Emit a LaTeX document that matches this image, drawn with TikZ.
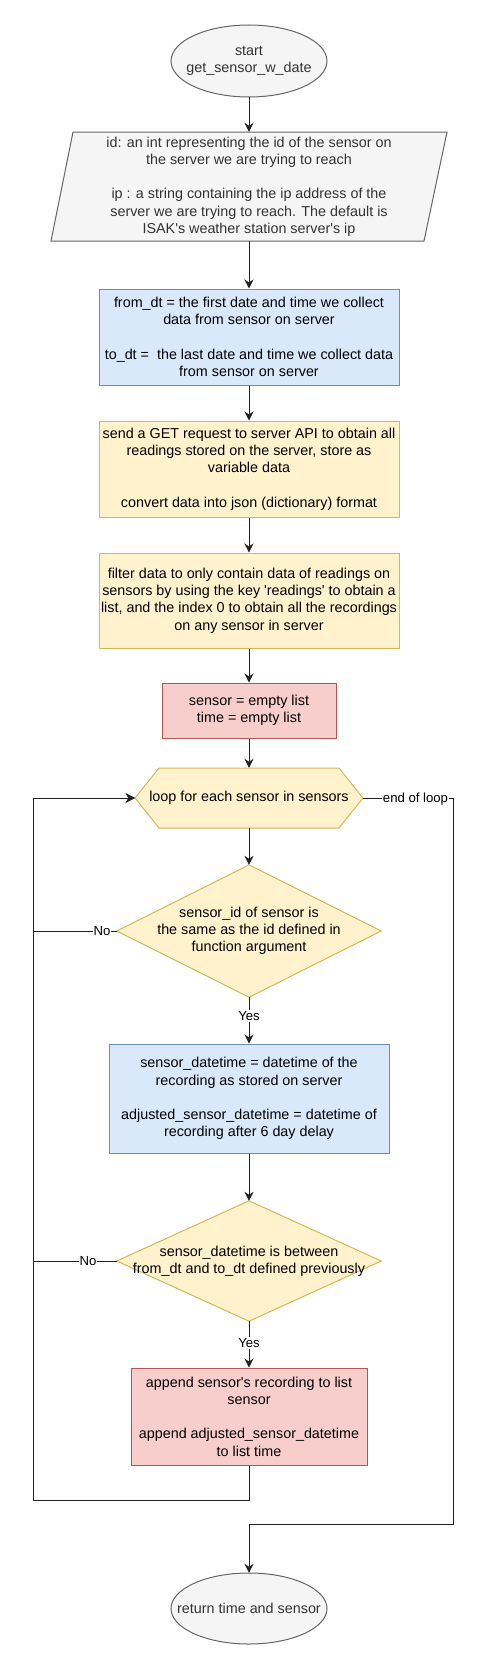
\documentclass[tikz,border=0pt]{standalone}
\usepackage{fontspec}
\setmainfont{Liberation Sans}
\usetikzlibrary{arrows.meta,backgrounds}
\definecolor{gfill}{HTML}{F5F5F5}
\definecolor{gline}{HTML}{666666}
\definecolor{gtext}{HTML}{333333}
\definecolor{bfill}{HTML}{DAE8FC}
\definecolor{bline}{HTML}{6C8EBF}
\definecolor{yfill}{HTML}{FFF2CC}
\definecolor{yline}{HTML}{D6B656}
\definecolor{rfill}{HTML}{F8CECC}
\definecolor{rline}{HTML}{B85450}
\definecolor{cline}{HTML}{222222}
\newcommand{\mainsz}{\fontsize{14.35}{17.2}\selectfont}
\newcommand{\lblsz}{\fontsize{13.15}{15.8}\selectfont}
\begin{document}
\begin{tikzpicture}[x=1pt,y=-1pt,
  txt/.style={align=center, inner sep=0pt, font=\mainsz, rectangle},
  box/.style={txt, draw, line width=1pt},
  gshape/.style={fill=gfill, draw=gline, line width=1pt},
  yshape/.style={fill=yfill, draw=yline, line width=1pt},
  conn/.style={draw=cline, line width=1pt, -{Stealth[length=9pt,width=9pt,inset=3pt]}},
  lbl/.style={fill=white, font=\lblsz, inner sep=1pt}]
\useasboundingbox (0,0) rectangle (490,1670);

\node[txt, text=gtext, minimum width=156, minimum height=72] (start) at (249,61) {start\\get\_sensor\_w\_date};
\node[txt, text=gtext, minimum width=374, minimum height=109] (in) at (249,186.5) {id: an int representing the id of the sensor on\\the server we are trying to reach\\[17.2pt]ip : a string containing the ip address of the\\server we are trying to reach. The default is\\ISAK\textquotesingle s weather station server\textquotesingle s ip};
\node[box, draw=bline, fill=bfill, minimum width=300, minimum height=96] (b1) at (249,337) {from\_dt = the first date and time we collect\\data from sensor on server\\[17.2pt]to\_dt =~ the last date and time we collect data\\from sensor on server};
\node[box, draw=yline, fill=yfill, minimum width=300, minimum height=96] (y1) at (249,469) {send a GET request to server API to obtain all\\readings stored on the server, store as\\variable data\\[17.2pt]convert data into json (dictionary) format};
\node[box, draw=yline, fill=yfill, minimum width=300, minimum height=95] (y2) at (249,600.5) {filter data to only contain data of readings on\\sensors by using the key \textquotesingle readings\textquotesingle{} to obtain a\\list, and the index 0 to obtain all the recordings\\on any sensor in server};
\node[box, draw=rline, fill=rfill, minimum width=174, minimum height=55] (r1) at (249,710.5) {sensor = empty list\\time = empty list};
\node[txt, minimum width=228, minimum height=60] (loop) at (249,798) {loop for each sensor in sensors};
\node[txt, minimum width=264, minimum height=132] (d1) at (249,931) {sensor\_id of sensor is\\the same as the id defined in\\function argument};
\node[box, draw=bline, fill=bfill, minimum width=280, minimum height=109] (b2) at (249,1098.5) {sensor\_datetime = datetime of the\\recording as stored on server\\[17.2pt]adjusted\_sensor\_datetime = datetime of\\recording after 6 day delay};
\node[txt, minimum width=264, minimum height=120] (d2) at (249,1261) {sensor\_datetime is between\\from\_dt and to\_dt defined previously};
\node[box, draw=rline, fill=rfill, minimum width=236, minimum height=97] (r2) at (249,1416.5) {append sensor\textquotesingle s recording to list\\sensor\\[17.2pt]append adjusted\_sensor\_datetime\\to list time};
\node[txt, text=gtext, minimum width=156, minimum height=71] (stop) at (249,1608.5) {return time and sensor};

\begin{scope}[on background layer]
  \draw[gshape] (start.center) ellipse [x radius=78, y radius=36];
  \draw[gshape] (73,132) -- (447,132) -- (424,241) -- (51,241) -- cycle;
  \draw[yshape] (159,768) -- (339,768) -- (363,798) -- (339,828) -- (159,828) -- (135,798) -- cycle;
  \draw[yshape] (d1.north) -- (d1.east) -- (d1.south) -- (d1.west) -- cycle;
  \draw[yshape] (d2.north) -- (d2.east) -- (d2.south) -- (d2.west) -- cycle;
  \draw[gshape] (stop.center) ellipse [x radius=78, y radius=35.5];
\end{scope}

\coordinate (nl1) at (33,931);
\coordinate (nl2) at (33,1261);
\coordinate (bk1) at (249,1500);
\coordinate (bk2) at (33,1500);
\coordinate (el1) at (453,798);
\coordinate (el2) at (453,1524);
\coordinate (el3) at (249,1524);

\draw[conn] (start.south) -- (in.north);
\draw[conn] (in.south) -- (b1.north);
\draw[conn] (b1.south) -- (y1.north);
\draw[conn] (y1.south) -- (y2.north);
\draw[conn] (y2.south) -- (r1.north);
\draw[conn] (r1.south) -- (loop.north);
\draw[conn] (loop.south) -- (d1.north);
\draw[conn] (d1.south) -- (b2.north);
\draw[conn] (b2.south) -- (d2.north);
\draw[conn] (d2.south) -- (r2.north);
\draw[conn] (d1.west) -- (nl1) |- (loop.west);
\draw[conn] (d2.west) -- (nl2) |- (loop.west);
\draw[conn] (r2.south) -- (bk1) -- (bk2) |- (loop.west);
\draw[conn] (loop.east) -- (el1) -- (el2) -- (el3) -- (stop.north);

\node[lbl] (yes1) at (249,1016) {Yes};
\node[lbl] (yes2) at (249,1343) {Yes};
\node[lbl] (no1) at (102,931) {No};
\node[lbl] (no2) at (88,1261) {No};
\node[lbl] (eol) at (415.5,799) {end of loop};
\end{tikzpicture}
\end{document}
